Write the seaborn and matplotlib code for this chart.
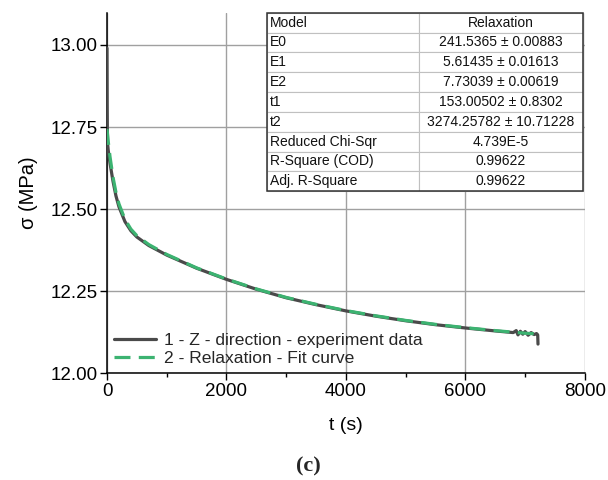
import matplotlib
matplotlib.use("Agg")
import matplotlib.pyplot as plt
import seaborn as sns
import pandas as pd
from matplotlib.patches import Rectangle

# ---------------- data ----------------
t_exp = [0, 3, 6, 10, 20, 50, 100, 150, 200, 300, 400, 500, 700, 1000, 1500,
         2000, 2500, 3000, 3500, 4000, 4500, 5000, 5500, 6000, 6500, 6800,
         6850, 6880, 6920, 6960, 7000, 7050, 7100, 7150, 7190, 7210, 7215]
sigma_exp = [12.99, 12.82, 12.74, 12.70, 12.68, 12.640, 12.585, 12.540, 12.507,
             12.462, 12.434, 12.415, 12.389, 12.360, 12.320, 12.286, 12.256,
             12.230, 12.209, 12.190, 12.174, 12.160, 12.148, 12.138, 12.129,
             12.124, 12.130, 12.117, 12.128, 12.119, 12.127, 12.116, 12.124,
             12.118, 12.121, 12.117, 12.089]

t_fit = [0, 20, 50, 100, 150, 200, 300, 400, 500, 700, 1000, 1500, 2000, 2500,
         3000, 3500, 4000, 4500, 5000, 5500, 6000, 6500, 7000, 7200]
sigma_fit = [12.744, 12.707, 12.660, 12.598, 12.551, 12.516, 12.469, 12.439,
             12.419, 12.392, 12.362, 12.321, 12.287, 12.257, 12.231, 12.210,
             12.191, 12.175, 12.161, 12.149, 12.139, 12.130, 12.122, 12.120]

label_exp = "1 - Z - direction - experiment data"
label_fit = "2 - Relaxation - Fit curve"

table_params = ["Model", "E0", "E1", "E2", "t1", "t2", "Reduced Chi-Sqr",
                "R-Square (COD)", "Adj. R-Square"]
table_values = ["Relaxation", "241.5365 \u00b1 0.00883", "5.61435 \u00b1 0.01613",
                "7.73039 \u00b1 0.00619", "153.00502 \u00b1 0.8302",
                "3274.25782 \u00b1 10.71228", "4.739E-5", "0.99622", "0.99622"]

x_ticks = [0, 2000, 4000, 6000, 8000]
x_minor = [1000, 3000, 5000, 7000]
y_ticks = [12.00, 12.25, 12.50, 12.75, 13.00]

# ---------------- style ----------------
sns.set_theme(style="ticks")
plt.rcParams["font.family"] = ["Liberation Sans", "DejaVu Sans"]

fig = plt.figure(figsize=(6.08, 4.80), dpi=100)
ax = fig.add_axes([0.176, 0.2223, 0.786, 0.7512])

df_exp = pd.DataFrame({"t": t_exp, "sigma": sigma_exp})
df_fit = pd.DataFrame({"t": t_fit, "sigma": sigma_fit})

sns.lineplot(data=df_exp, x="t", y="sigma", ax=ax, color="#4a4a4a", lw=2.3,
             label=label_exp, estimator=None, sort=False, zorder=3)
sns.lineplot(data=df_fit, x="t", y="sigma", ax=ax, color="#3cb371", lw=2.3,
             label=label_fit, estimator=None, sort=False, zorder=4,
             linestyle=(0, (5, 2.6)))

ax.set_xlim(0, 8000)
ax.set_ylim(12.0, 13.098)
ax.set_xticks(x_ticks)
ax.set_xticks(x_minor, minor=True)
ax.set_yticks(y_ticks)
ax.set_yticklabels([f"{v:.2f}" for v in y_ticks])
ax.grid(True, which="major", color="#a0a0a0", lw=1.0)
ax.set_axisbelow(True)

for s in ["top", "right"]:
    ax.spines[s].set_visible(False)
for s in ["left", "bottom"]:
    ax.spines[s].set_color("black")
    ax.spines[s].set_linewidth(1.1)

ax.tick_params(axis="both", which="major", direction="out", length=5, width=1.0,
               color="black", labelsize=13.5, labelcolor="black", pad=2)
ax.tick_params(axis="x", which="minor", direction="out", length=3, width=1.0,
               color="black")

ax.set_xlabel("t (s)", fontsize=14, color="black", labelpad=12)
ax.set_ylabel("\u03c3 (MPa)", fontsize=14.5, color="black", labelpad=9)

leg = ax.legend(loc="lower left", bbox_to_anchor=(0.0, 0.0), frameon=False,
                fontsize=12.6, handlelength=2.4, handletextpad=0.45,
                labelspacing=0.15, borderaxespad=0.3, borderpad=0.1)

# ---------------- parameter table ----------------
cell_text = [[p, v] for p, v in zip(table_params, table_values)]
tbl = ax.table(cellText=cell_text, colWidths=[0.481 * 0.661, 0.519 * 0.661],
               bbox=[0.335, 0.505, 0.661, 0.495], zorder=10)
tbl.auto_set_font_size(False)
tbl.set_fontsize(10)
for (r, c), cell in tbl.get_celld().items():
    cell.set_edgecolor("#c0c0c0")
    cell.set_linewidth(0.8)
    cell.set_facecolor("white")
    cell.get_text().set_color("#111111")
    if c == 0:
        cell.get_text().set_ha("left")
        cell.PAD = 0.02
    else:
        cell.get_text().set_ha("center")
ax.add_patch(Rectangle((0.335, 0.505), 0.661, 0.495, transform=ax.transAxes,
                       fill=False, edgecolor="#333333", lw=1.1, zorder=11,
                       clip_on=False))

fig.text(308 / 608, 1 - 466 / 480, "(c)", ha="center", va="center", fontsize=16,
         family=["Liberation Serif", "DejaVu Serif"], fontweight="bold")

fig.savefig("out.png", dpi=100)
